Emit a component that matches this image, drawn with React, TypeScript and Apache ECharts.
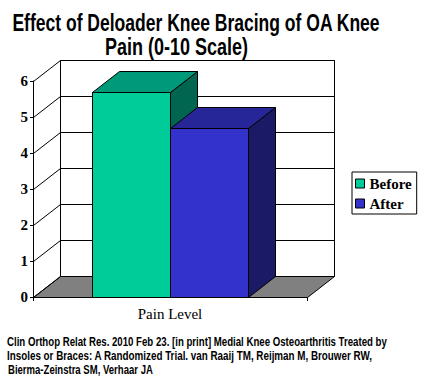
import React, { useEffect, useRef } from "react";
import * as echarts from "echarts";

// ---- data ----
const TITLE_LINES = ["Effect of Deloader Knee Bracing of OA Knee", "Pain (0-10 Scale)"];
const FOOTER_LINES = [
  "Clin Orthop Relat Res. 2010 Feb 23. [in print] Medial Knee Osteoarthritis Treated by",
  "Insoles or Braces: A Randomized Trial. van Raaij TM, Reijman M, Brouwer RW,",
  "Bierma-Zeinstra SM, Verhaar JA",
];
const CATEGORIES = ["Pain Level"];
const SERIES_NAMES = ["Before", "After"];
const BEFORE_VALUES = [5.7];
const AFTER_VALUES = [4.7];
const Y_TICKS = [0, 1, 2, 3, 4, 5, 6];

// ---- styling ----
const DX = 27;
const DY = -21;
const BAR_FRAC = 0.285;
const FACES: Record<string, { front: string; top: string; side: string }> = {
  Before: { front: "#00CC99", top: "#00997A", side: "#006650" },
  After: { front: "#3333CC", top: "#262699", side: "#1A1A66" },
};
const SERIF = "'Liberation Serif', 'Times New Roman', serif";
const SANS = "'Liberation Sans', Arial, sans-serif";

const px = (v: number) => Math.round(v) + 0.5;

function measure(text: string, font: string) {
  const c = document.createElement("canvas").getContext("2d");
  if (!c) return 1;
  c.font = font;
  return c.measureText(text).width || 1;
}

function makeBarRender(offsetIdx: number, name: string) {
  const col = FACES[name];
  return (params: any, api: any) => {
    const cat = api.value(0);
    const val = api.value(1);
    const top = api.coord([cat, val]);
    const base = api.coord([cat, 0]);
    const band = api.size([1, 0])[0];
    const w = band * BAR_FRAC;
    const x0 = px(top[0] + offsetIdx * w);
    const x1 = px(top[0] + offsetIdx * w + w);
    const yT = px(top[1]);
    const yB = px(base[1]);
    const st = { stroke: "#000", lineWidth: 1 };
    return {
      type: "group",
      children: [
        {
          type: "polygon",
          shape: { points: [[x1, yT], [x1 + DX, yT + DY], [x1 + DX, yB + DY], [x1, yB]] },
          style: { fill: col.side, ...st },
        },
        {
          type: "polygon",
          shape: { points: [[x0, yT], [x1, yT], [x1 + DX, yT + DY], [x0 + DX, yT + DY]] },
          style: { fill: col.top, ...st },
        },
        {
          type: "rect",
          shape: { x: x0, y: yT, width: x1 - x0, height: yB - yT },
          style: { fill: col.front, ...st },
        },
      ],
    };
  };
}

function backdropRender(params: any, api: any) {
  const v = api.value(1);
  const p = api.coord([0, v]);
  const band = api.size([1, 0])[0];
  const left = px(p[0] - band / 2);
  const right = px(p[0] + band / 2);
  const y = px(p[1]);
  const st = { stroke: "#000", lineWidth: 1 };
  const children: any[] = [];
  if (v === Y_TICKS[0]) {
    const yTop = px(api.coord([0, Y_TICKS[Y_TICKS.length - 1]])[1]);
    children.push({
      type: "rect",
      shape: { x: left + DX, y: yTop + DY, width: right - left, height: y - yTop },
      style: { fill: "#fff", ...st },
    });
    children.push({
      type: "polygon",
      shape: { points: [[left, y], [right, y], [right + DX, y + DY], [left + DX, y + DY]] },
      style: { fill: "#808080", ...st },
    });
  } else {
    children.push({
      type: "line",
      shape: { x1: left + DX, y1: y + DY, x2: right + DX, y2: y + DY },
      style: st,
    });
  }
  children.push({
    type: "line",
    shape: { x1: left, y1: y, x2: left + DX, y2: y + DY },
    style: st,
  });
  return { type: "group", children };
}

export default function App() {
  const ref = useRef<HTMLDivElement>(null);
  useEffect(() => {
    if (!ref.current) return;
    const chart = echarts.init(ref.current, undefined, { renderer: "svg" });

    const titleFont = `bold 24px ${SANS}`;
    const footFont = `bold 12.5px ${SANS}`;
    const titleTargets = [
      { x: 196, y: 22.5, w: 368 },
      { x: 176.5, y: 46.5, w: 143 },
    ];
    const footTargets = [
      { x: 7, y: 341.5, w: 380 },
      { x: 7, y: 356, w: 366 },
      { x: 8, y: 370, w: 145 },
    ];
    const graphic: any[] = [];
    TITLE_LINES.forEach((t, i) => {
      const g = titleTargets[i];
      graphic.push({
        type: "text",
        x: g.x,
        y: g.y,
        scaleX: g.w / measure(t, titleFont),
        style: {
          text: t,
          x: 0,
          y: 0,
          font: titleFont,
          fill: "#000",
          textAlign: "center",
          textVerticalAlign: "middle",
          align: "center",
          verticalAlign: "middle",
        },
      });
    });
    FOOTER_LINES.forEach((t, i) => {
      const g = footTargets[i];
      graphic.push({
        type: "text",
        x: g.x,
        y: g.y,
        scaleX: g.w / measure(t, footFont),
        style: {
          text: t,
          x: 0,
          y: 0,
          font: footFont,
          fill: "#000",
          textAlign: "left",
          textVerticalAlign: "middle",
          align: "left",
          verticalAlign: "middle",
        },
      });
    });

    chart.setOption({
      animation: false,
      backgroundColor: "#fff",
      grid: { left: 33, right: 124, top: 81, bottom: 83, containLabel: false },
      xAxis: {
        type: "category",
        data: CATEGORIES,
        boundaryGap: true,
        axisLine: { show: true, lineStyle: { color: "#000", width: 1 } },
        axisTick: { show: true, length: 4, lineStyle: { color: "#000" } },
        axisLabel: { color: "#000", fontFamily: SERIF, fontSize: 15, margin: 9 },
        splitLine: { show: false },
      },
      yAxis: {
        type: "value",
        min: 0,
        max: 6,
        interval: 1,
        axisLine: { show: true, lineStyle: { color: "#000", width: 1 } },
        axisTick: { show: true, length: 3, lineStyle: { color: "#000" } },
        axisLabel: {
          color: "#000",
          fontFamily: SERIF,
          fontWeight: "bold",
          fontSize: 15,
          margin: 5,
        },
        splitLine: { show: false },
      },
      legend: {
        orient: "vertical",
        left: 352,
        top: 172,
        selectedMode: false,
        icon: "rect",
        itemWidth: 9,
        itemHeight: 9,
        itemGap: 5,
        padding: [4, 5, 3, 3],
        borderColor: "#000",
        borderWidth: 1,
        backgroundColor: "#fff",
        textStyle: { color: "#000", fontFamily: SERIF, fontWeight: "bold", fontSize: 15 },
        data: SERIES_NAMES.map((n) => ({
          name: n,
          icon: "rect",
          itemStyle: { color: FACES[n].front, borderColor: "#000", borderWidth: 1 },
        })),
      },
      series: [
        {
          type: "custom",
          name: "backdrop",
          silent: true,
          clip: false,
          z: 1,
          data: Y_TICKS.map((v) => [0, v]),
          encode: { x: 0, y: 1 },
          renderItem: backdropRender,
        },
        {
          type: "custom",
          name: SERIES_NAMES[0],
          clip: false,
          z: 2,
          itemStyle: { color: FACES.Before.front },
          data: BEFORE_VALUES.map((v, i) => [i, v]),
          encode: { x: 0, y: 1 },
          renderItem: makeBarRender(-1, "Before"),
        },
        {
          type: "custom",
          name: SERIES_NAMES[1],
          clip: false,
          z: 3,
          itemStyle: { color: FACES.After.front },
          data: AFTER_VALUES.map((v, i) => [i, v]),
          encode: { x: 0, y: 1 },
          renderItem: makeBarRender(0, "After"),
        },
      ],
      graphic,
    });
    return () => chart.dispose();
  }, []);
  return (
    <div
      ref={ref}
      style={{ position: "fixed", left: 0, top: 0, width: 431, height: 380, background: "#fff" }}
    />
  );
}
